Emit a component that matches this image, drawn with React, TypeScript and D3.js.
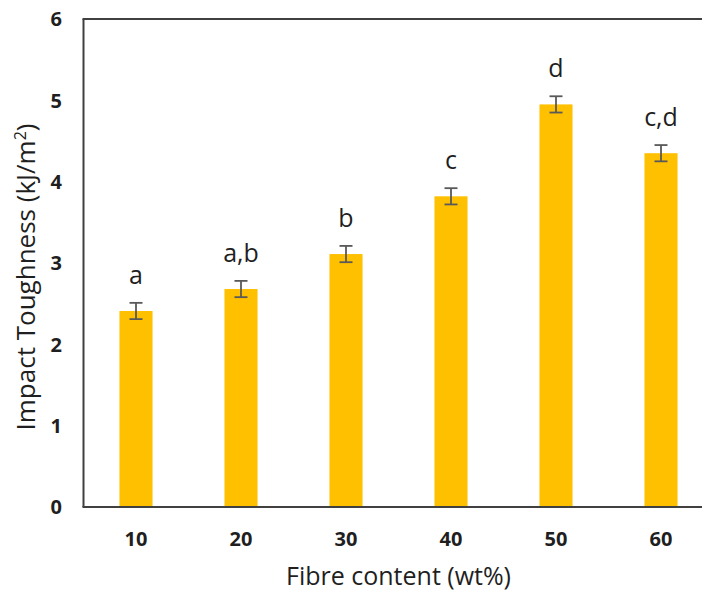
import React from "react";
import * as d3 from "d3";

const categories = ["10", "20", "30", "40", "50", "60"];
const values = [2.41, 2.68, 3.11, 3.82, 4.95, 4.35];
const errors = [0.1, 0.1, 0.1, 0.1, 0.1, 0.1];
const letters = ["a", "a,b", "b", "c", "d", "c,d"];
const yTicks = [0, 1, 2, 3, 4, 5, 6];

const W = 702;
const H = 594;
const left = 83.5;
const right = 713.5;
const top = 19;
const bottom = 507;
const FONT = "'Open Sans', 'Noto Sans', sans-serif";

export default function App() {
  const x = d3.scaleBand<string>().domain(categories).range([left, right]).paddingInner(0.685).paddingOuter(0.3425);
  const y = d3.scaleLinear().domain([0, 6]).range([bottom, top]);
  const bw = x.bandwidth();
  return (
    <svg width={W} height={H} style={{ position: "absolute", left: 0, top: 0, background: "#fff" }}>
      {categories.map((c, i) => (
        <rect key={c} x={x(c)} y={y(values[i])} width={bw} height={y(0) - y(values[i])} fill="#FFC000" />
      ))}
      {categories.map((c, i) => {
        const cx = (x(c) as number) + bw / 2;
        const y1 = y(values[i] + errors[i]);
        const y2 = y(values[i] - errors[i]);
        return (
          <g key={"e" + c} stroke="#595959" strokeWidth={1.8}>
            <line x1={cx} x2={cx} y1={y1} y2={y2} />
            <line x1={cx - 6.5} x2={cx + 6.5} y1={y1} y2={y1} />
            <line x1={cx - 6.5} x2={cx + 6.5} y1={y2} y2={y2} />
          </g>
        );
      })}
      {categories.map((c, i) => (
        <text key={"l" + c} x={(x(c) as number) + bw / 2} y={y(values[i] + errors[i]) - 19} textAnchor="middle"
          fontFamily={FONT} fontSize={25} fill="#1f1f1f">{letters[i]}</text>
      ))}
      <g stroke="#404040" strokeWidth={2} fill="none">
        <line x1={left} x2={left} y1={top} y2={bottom} />
        <line x1={left - 1} x2={W} y1={top} y2={top} />
        <line x1={left - 1} x2={W} y1={bottom} y2={bottom} />
      </g>
      {yTicks.map((t) => (
        <text key={"y" + t} x={62} y={y(t)} dy="0.36em" textAnchor="end" fontFamily={FONT} fontWeight="bold" fontSize={20} fill="#1f1f1f">{t}</text>
      ))}
      {categories.map((c) => (
        <text key={"x" + c} x={(x(c) as number) + bw / 2} y={546} textAnchor="middle" fontFamily={FONT} fontWeight="bold" fontSize={20} fill="#1f1f1f">{c}</text>
      ))}
      <text x={(left + right) / 2} y={585} textAnchor="middle" fontFamily={FONT} fontSize={25} fill="#1f1f1f">Fibre content (wt%)</text>
      <text transform={`translate(35, 277) rotate(-90)`} textAnchor="middle" fontFamily={FONT} fontSize={26} fill="#1f1f1f">
        Impact Toughness (kJ/m<tspan dy="-9" fontSize={16}>2</tspan><tspan dy="9">)</tspan>
      </text>
    </svg>
  );
}
